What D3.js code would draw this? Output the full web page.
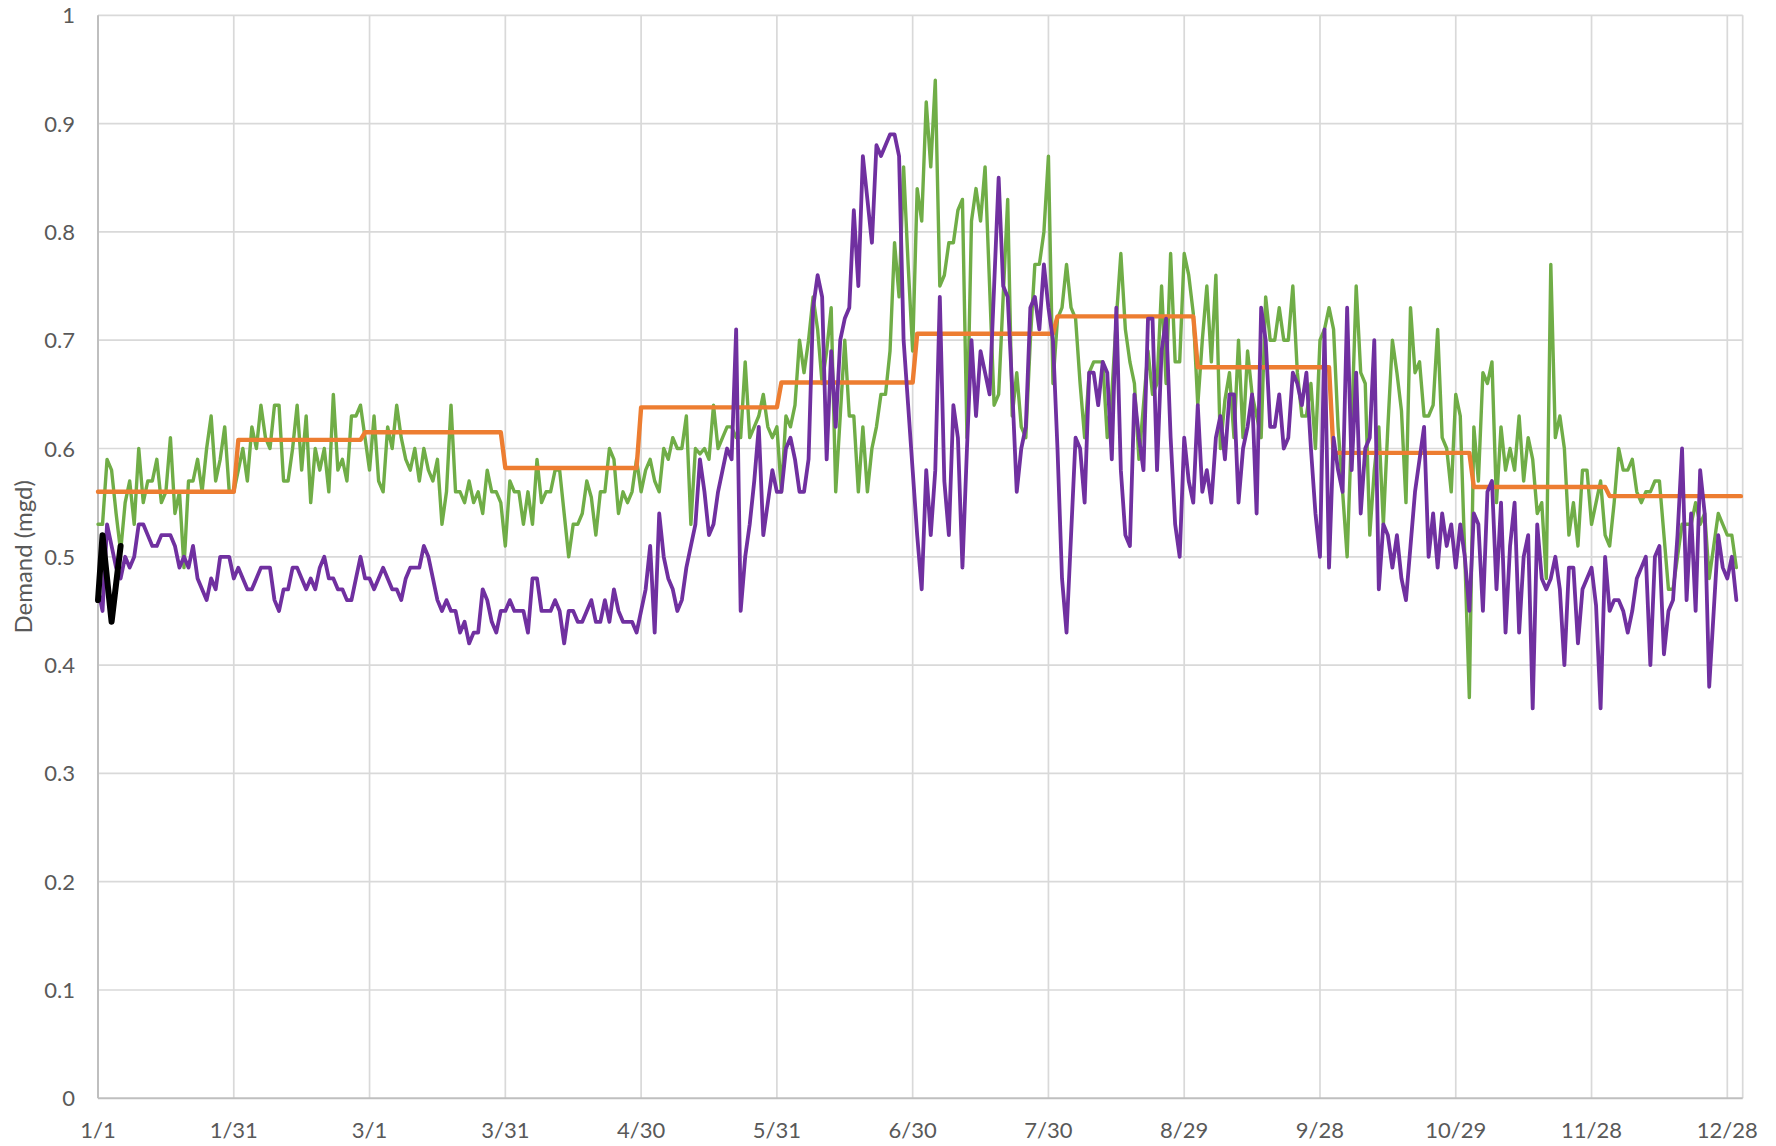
<!DOCTYPE html>
<html>
<head>
<meta charset="utf-8">
<script src="https://cdn.jsdelivr.net/npm/d3@7"></script>
<style>
    body { margin: 0; background: #ffffff; }
    text { font-family: Lato, "Open Sans", sans-serif; fill: #595959; }
</style>
</head>
<body>
<div id="chart"></div>
<script>
const svgWidth = 1776;
const svgHeight = 1146;

// x axis: one point per day, labels every 30 days
const tickDays = [0, 30, 60, 90, 120, 150, 180, 210, 240, 270, 300, 330, 360];
const tickLabels = ["1/1", "1/31", "3/1", "3/31", "4/30", "5/31", "6/30", "7/30", "8/29", "9/28", "10/29", "11/28", "12/28"];
const yTicks = [0, 0.1, 0.2, 0.3, 0.4, 0.5, 0.6, 0.7, 0.8, 0.9, 1];

// monthly average (orange step)
const monthLengths = [31, 28, 31, 30, 31, 30, 31, 31, 30, 31, 30, 31];
const monthLevels = [0.56, 0.608, 0.615, 0.582, 0.638, 0.661, 0.706, 0.722, 0.675, 0.596, 0.5645, 0.556];

// daily demand, green series
const greenDaily = [
    0.53, 0.53, 0.59, 0.58, 0.54, 0.505, 0.55, 0.57, 0.53, 0.60,
    0.55, 0.57, 0.57, 0.59, 0.55, 0.56, 0.61, 0.54, 0.56, 0.49,
    0.57, 0.57, 0.59, 0.56, 0.60, 0.63, 0.57, 0.59, 0.62, 0.56,
    0.56, 0.58, 0.60, 0.57, 0.62, 0.60, 0.64, 0.61, 0.60, 0.64,
    0.64, 0.57, 0.57, 0.60, 0.64, 0.58, 0.63, 0.55, 0.60, 0.58,
    0.60, 0.56, 0.65, 0.58, 0.59, 0.57, 0.63, 0.63, 0.64, 0.61,
    0.58, 0.63, 0.57, 0.56, 0.62, 0.60, 0.64, 0.61, 0.59, 0.58,
    0.60, 0.57, 0.60, 0.58, 0.57, 0.59, 0.53, 0.56, 0.64, 0.56,
    0.56, 0.55, 0.57, 0.55, 0.56, 0.54, 0.58, 0.56, 0.56, 0.55,
    0.51, 0.57, 0.56, 0.56, 0.53, 0.56, 0.53, 0.59, 0.55, 0.56,
    0.56, 0.58, 0.58, 0.54, 0.50, 0.53, 0.53, 0.54, 0.57, 0.555,
    0.52, 0.56, 0.56, 0.60, 0.59, 0.54, 0.56, 0.55, 0.56, 0.59,
    0.56, 0.58, 0.59, 0.57, 0.56, 0.60, 0.59, 0.61, 0.60, 0.60,
    0.63, 0.53, 0.60, 0.595, 0.60, 0.59, 0.64, 0.60, 0.61, 0.62,
    0.62, 0.61, 0.61, 0.68, 0.61, 0.62, 0.63, 0.65, 0.62, 0.61,
    0.62, 0.56, 0.63, 0.62, 0.64, 0.70, 0.67, 0.70, 0.74, 0.71,
    0.66, 0.69, 0.73, 0.56, 0.63, 0.70, 0.63, 0.63, 0.56, 0.62,
    0.56, 0.60, 0.62, 0.65, 0.65, 0.69, 0.79, 0.74, 0.86, 0.77,
    0.69, 0.84, 0.81, 0.92, 0.86, 0.94, 0.75, 0.76, 0.79, 0.79,
    0.82, 0.83, 0.61, 0.81, 0.84, 0.81, 0.86, 0.75, 0.64, 0.65,
    0.74, 0.83, 0.63, 0.67, 0.62, 0.61, 0.70, 0.77, 0.77, 0.80,
    0.87, 0.66, 0.72, 0.73, 0.77, 0.73, 0.72, 0.66, 0.61, 0.67,
    0.68, 0.68, 0.68, 0.61, 0.65, 0.72, 0.78, 0.71, 0.68, 0.66,
    0.59, 0.64, 0.69, 0.65, 0.66, 0.75, 0.66, 0.78, 0.68, 0.68,
    0.78, 0.76, 0.725, 0.64, 0.70, 0.75, 0.68, 0.76, 0.60, 0.645,
    0.67, 0.61, 0.70, 0.61, 0.69, 0.65, 0.63, 0.61, 0.74, 0.70,
    0.70, 0.73, 0.70, 0.70, 0.75, 0.67, 0.63, 0.63, 0.66, 0.60,
    0.70, 0.71, 0.73, 0.71, 0.62, 0.56, 0.50, 0.62, 0.75, 0.67,
    0.66, 0.52, 0.58, 0.62, 0.53, 0.62, 0.70, 0.67, 0.635, 0.55,
    0.73, 0.67, 0.68, 0.63, 0.63, 0.64, 0.71, 0.61, 0.60, 0.56,
    0.65, 0.63, 0.50, 0.37, 0.62, 0.57, 0.67, 0.66, 0.68, 0.55,
    0.62, 0.58, 0.60, 0.58, 0.63, 0.57, 0.61, 0.59, 0.54, 0.55,
    0.48, 0.77, 0.61, 0.63, 0.60, 0.52, 0.55, 0.51, 0.58, 0.58,
    0.53, 0.55, 0.57, 0.52, 0.51, 0.55, 0.60, 0.58, 0.58, 0.59,
    0.56, 0.55, 0.56, 0.56, 0.57, 0.57, 0.52, 0.47, 0.47, 0.50,
    0.53, 0.53, 0.53, 0.55, 0.53, 0.54, 0.48, 0.51, 0.54, 0.53,
    0.52, 0.52, 0.49
];

// daily demand, purple series
const purpleDaily = [
    0.47, 0.45, 0.53, 0.51, 0.49, 0.48, 0.50, 0.49, 0.50, 0.53,
    0.53, 0.52, 0.51, 0.51, 0.52, 0.52, 0.52, 0.51, 0.49, 0.50,
    0.49, 0.51, 0.48, 0.47, 0.46, 0.48, 0.47, 0.50, 0.50, 0.50,
    0.48, 0.49, 0.48, 0.47, 0.47, 0.48, 0.49, 0.49, 0.49, 0.46,
    0.45, 0.47, 0.47, 0.49, 0.49, 0.48, 0.47, 0.48, 0.47, 0.49,
    0.50, 0.48, 0.48, 0.47, 0.47, 0.46, 0.46, 0.48, 0.50, 0.48,
    0.48, 0.47, 0.48, 0.49, 0.48, 0.47, 0.47, 0.46, 0.48, 0.49,
    0.49, 0.49, 0.51, 0.50, 0.48, 0.46, 0.45, 0.46, 0.45, 0.45,
    0.43, 0.44, 0.42, 0.43, 0.43, 0.47, 0.46, 0.44, 0.43, 0.45,
    0.45, 0.46, 0.45, 0.45, 0.45, 0.43, 0.48, 0.48, 0.45, 0.45,
    0.45, 0.46, 0.45, 0.42, 0.45, 0.45, 0.44, 0.44, 0.45, 0.46,
    0.44, 0.44, 0.46, 0.44, 0.47, 0.45, 0.44, 0.44, 0.44, 0.43,
    0.45, 0.47, 0.51, 0.43, 0.54, 0.50, 0.48, 0.47, 0.45, 0.46,
    0.49, 0.51, 0.53, 0.59, 0.56, 0.52, 0.53, 0.56, 0.58, 0.60,
    0.59, 0.71, 0.45, 0.50, 0.53, 0.57, 0.62, 0.52, 0.55, 0.58,
    0.56, 0.56, 0.60, 0.61, 0.59, 0.56, 0.56, 0.59, 0.73, 0.76,
    0.74, 0.59, 0.69, 0.62, 0.70, 0.72, 0.73, 0.82, 0.75, 0.87,
    0.83, 0.79, 0.88, 0.87, 0.88, 0.89, 0.89, 0.87, 0.70, 0.64,
    0.58, 0.52, 0.47, 0.58, 0.52, 0.58, 0.74, 0.57, 0.52, 0.64,
    0.61, 0.49, 0.60, 0.70, 0.63, 0.69, 0.67, 0.65, 0.75, 0.85,
    0.75, 0.74, 0.655, 0.56, 0.60, 0.62, 0.73, 0.74, 0.71, 0.77,
    0.73, 0.70, 0.60, 0.48, 0.43, 0.52, 0.61, 0.60, 0.55, 0.67,
    0.67, 0.64, 0.68, 0.67, 0.59, 0.73, 0.58, 0.52, 0.51, 0.65,
    0.61, 0.58, 0.72, 0.72, 0.58, 0.69, 0.72, 0.61, 0.53, 0.50,
    0.61, 0.57, 0.55, 0.64, 0.56, 0.58, 0.55, 0.61, 0.63, 0.59,
    0.65, 0.65, 0.55, 0.60, 0.62, 0.65, 0.54, 0.73, 0.70, 0.62,
    0.62, 0.65, 0.60, 0.61, 0.67, 0.66, 0.64, 0.67, 0.60, 0.54,
    0.50, 0.71, 0.49, 0.61, 0.58, 0.56, 0.73, 0.58, 0.67, 0.54,
    0.60, 0.61, 0.70, 0.47, 0.53, 0.52, 0.49, 0.52, 0.48, 0.46,
    0.51, 0.56, 0.59, 0.62, 0.50, 0.54, 0.49, 0.54, 0.51, 0.53,
    0.49, 0.53, 0.50, 0.45, 0.54, 0.53, 0.45, 0.56, 0.57, 0.47,
    0.55, 0.43, 0.51, 0.55, 0.43, 0.50, 0.52, 0.36, 0.53, 0.48,
    0.47, 0.48, 0.50, 0.47, 0.40, 0.49, 0.49, 0.42, 0.47, 0.48,
    0.49, 0.455, 0.36, 0.50, 0.45, 0.46, 0.46, 0.45, 0.43, 0.45,
    0.48, 0.49, 0.50, 0.40, 0.50, 0.51, 0.41, 0.45, 0.46, 0.52,
    0.60, 0.46, 0.54, 0.45, 0.58, 0.54, 0.38, 0.45, 0.52, 0.49,
    0.48, 0.50, 0.46
];

// first days of the current period (black)
const blackDaily = [0.46, 0.52, 0.48, 0.44, 0.475, 0.51];

const plotLeft = 98;
const plotRight = 1742.7;
const plotTop = 15.3;
const plotBottom = 1098.3;

let x = d3.scaleLinear().domain([0, 363.4]).range([plotLeft, plotRight]);
let y = d3.scaleLinear().domain([0, 1]).range([plotBottom, plotTop]);

function create_chart() {
    let svg = d3.select("#chart")
        .append("svg")
        .attr("width", svgWidth)
        .attr("height", svgHeight);
    add_grid(svg);
    add_axes(svg);
    add_lines(svg);
}

function add_grid(svg) {
    // horizontal gridlines
    svg.append("g")
        .selectAll("line")
        .data(yTicks.slice(1))
        .enter()
        .append("line")
        .attr("x1", plotLeft)
        .attr("x2", plotRight)
        .attr("y1", d => y(d))
        .attr("y2", d => y(d))
        .attr("stroke", "#d9d9d9")
        .attr("stroke-width", 1.7);
    // vertical gridlines + right edge
    svg.append("g")
        .selectAll("line")
        .data(tickDays.slice(1).concat([363.4]))
        .enter()
        .append("line")
        .attr("x1", d => x(d))
        .attr("x2", d => x(d))
        .attr("y1", y(1))
        .attr("y2", y(0))
        .attr("stroke", "#d9d9d9")
        .attr("stroke-width", 1.7);
}

function add_axes(svg) {
    // left and bottom axis lines
    svg.append("line")
        .attr("x1", x(0)).attr("x2", x(0))
        .attr("y1", y(1)).attr("y2", y(0))
        .attr("stroke", "#bfbfbf")
        .attr("stroke-width", 2);
    svg.append("line")
        .attr("x1", x(0)).attr("x2", plotRight)
        .attr("y1", y(0)).attr("y2", y(0))
        .attr("stroke", "#bfbfbf")
        .attr("stroke-width", 2);

    svg.append("g")
        .selectAll("text")
        .data(yTicks)
        .enter()
        .append("text")
        .attr("x", 75)
        .attr("y", d => y(d) + 8)
        .attr("text-anchor", "end")
        .style("font-size", "22px")
        .text(d => d3.format("~g")(d));

    svg.append("g")
        .selectAll("text")
        .data(tickDays)
        .enter()
        .append("text")
        .attr("x", d => x(d))
        .attr("y", 1138)
        .attr("text-anchor", "middle")
        .style("font-size", "22px")
        .text((d, i) => tickLabels[i]);

    svg.append("text")
        .attr("transform", `translate(31.7, ${(plotTop + plotBottom) / 2}) rotate(-90)`)
        .attr("text-anchor", "middle")
        .style("font-size", "24px")
        .text("Demand (mgd)");
}

function monthly_series() {
    // repeat each month's level for every day of that month
    let out = [];
    monthLengths.forEach((len, m) => {
        for (let k = 0; k < len; k++) out.push(monthLevels[m]);
    });
    return out.slice(0, greenDaily.length + 1);
}

function add_lines(svg) {
    let line = d3.line()
        .x((d, i) => x(i))
        .y(d => y(d));
    let series = [
        { values: greenDaily, color: "#70ad47", width: 3.4 },
        { values: monthly_series(), color: "#ed7d31", width: 4.4 },
        { values: purpleDaily, color: "#7030a0", width: 3.8 },
        { values: blackDaily, color: "#000000", width: 6 }
    ];
    svg.append("g")
        .selectAll("path")
        .data(series)
        .enter()
        .append("path")
        .attr("d", d => line(d.values))
        .attr("fill", "none")
        .attr("stroke", d => d.color)
        .attr("stroke-width", d => d.width)
        .attr("stroke-linejoin", "round")
        .attr("stroke-linecap", "round");
}

create_chart();
</script>
</body>
</html>
